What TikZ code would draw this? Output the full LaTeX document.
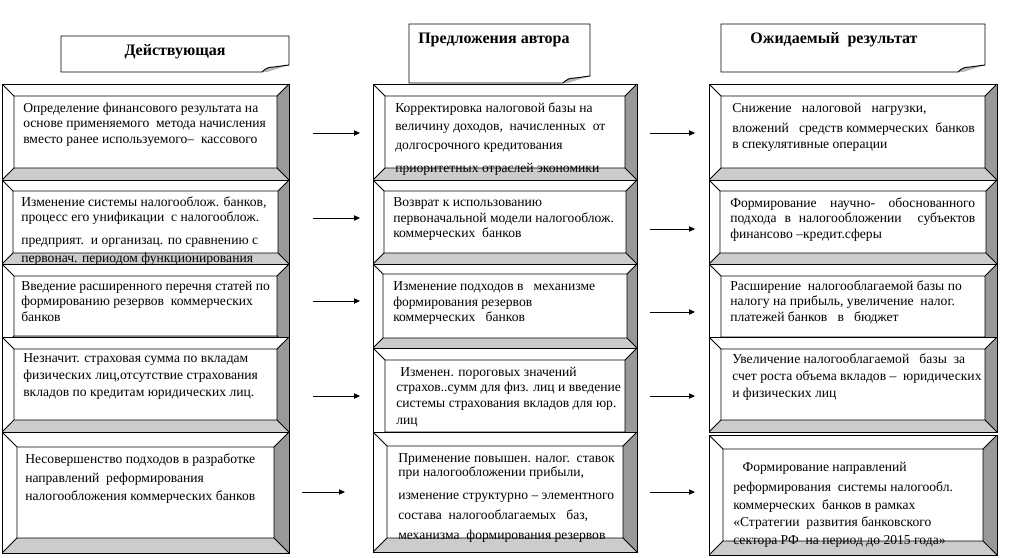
\documentclass[tikz,border=0pt]{standalone}
\usepackage{fontspec}
\setmainfont{Liberation Serif}
\usetikzlibrary{arrows.meta,calc}

\definecolor{bevR}{HTML}{999999}
\definecolor{bevB}{HTML}{CCCCCC}

% bevelled box: name, x1, y1, x2, y2, inset
\newcommand{\bevelnode}[6]{%
  \node (#1) at (#2,#3) [bevel=#6, minimum width={(#4-#2)*0.75pt}, minimum height={(#5-#3)*0.75pt}] {};}

% heading sheet with a folded corner: x1, y1, x2, y2
\newcommand{\notesheet}[4]{%
  \fill[white] (#1,#2) rectangle (#3,#4);
  \fill[bevR!70] (#3-27,#4) .. controls (#3-23,#4-4) and (#3-20,#4-5) .. (#3-15,#4-5) -- (#3,#4-7) -- (#3-22,#4) -- cycle;
  \draw[line width=0.7pt] (#3-27,#4) -- (#1,#4) -- (#1,#2) -- (#3,#2) -- (#3,#4-7)
    -- (#3-15,#4-5) .. controls (#3-20,#4-5) and (#3-23,#4-4) .. (#3-27,#4);}

\begin{document}
\begin{tikzpicture}[x=0.75pt,y=-0.75pt,
  bevel/.style={draw, line width=0.7pt, fill=white, inner sep=0pt, outer sep=0pt, anchor=north west,
    path picture={
      \path (path picture bounding box.north west) coordinate (pnw)
            (path picture bounding box.south east) coordinate (pse)
            (pnw-|pse) coordinate (pne) (pnw|-pse) coordinate (psw)
            ($(pnw)+(#1,-#1)$) coordinate (qnw)
            ($(pne)+(-#1,-#1)$) coordinate (qne)
            ($(pse)+(-#1,#1)$) coordinate (qse)
            ($(psw)+(#1,#1)$) coordinate (qsw);
      \fill[bevR] (pne) -- (pse) -- (qse) -- (qne) -- cycle;
      \fill[bevB] (psw) -- (pse) -- (qse) -- (qsw) -- cycle;
      \draw[line width=0.7pt] (qnw) rectangle (qse)
            (pnw) -- (qnw) (pne) -- (qne) (pse) -- (qse) (psw) -- (qsw);
    }},
  txt/.style={anchor=north west, inner sep=0pt, align=left, font=\fontsize{10.2}{11.6}\selectfont},
  head/.style={inner sep=0pt, font=\fontsize{12}{14}\selectfont\bfseries},
  arr/.style={-{Triangle[length=4.5pt,width=4pt]}, line width=0.6pt}]

\useasboundingbox (0,0) rectangle (1010,557);

% headings
\notesheet{61}{36}{289}{72}
\notesheet{409}{24}{590}{83}
\notesheet{721}{24}{985}{72}
\node (h1) at (175,52) [head] {Действующая};
\node (h2) at (418,40) [head, anchor=west] {Предложения автора};
\node (h3) at (750,40) [head, anchor=west] {Ожидаемый\ \ результат};

% column 1
\bevelnode{d1}{2}{84}{289}{180}{9pt}
\node (dt1) at (23,102.5) [txt] {Определение финансового результата на\\
  основе применяемого\ \ метода начисления\\
  вместо ранее используемого–\ \ кассового};
\bevelnode{d2}{2}{180}{289}{264}{8.25pt}
\node (dt2) at (21,196.5) [txt] {Изменение системы налогооблож. банков,\\
  процесс его унификации\ \ с налогооблож.\\[5pt]
  предприят.\ \ и организац. по сравнению с\\[2.5pt]
  первонач. периодом функционирования};
\bevelnode{d3}{2}{264}{289}{348}{9pt}
\node (dt3) at (21,280.5) [txt] {Введение расширенного перечня статей по\\
  формированию резервов\ \ коммерческих\\
  банков};
\bevelnode{d4}{2}{337}{289}{432}{9pt}
\node (dt4) at (23,353.5) [txt] {Незначит. страховая сумма по вкладам\\[1pt]
  физических лиц,отсутствие страхования\\[1pt]
  вкладов по кредитам юридических лиц.};
\bevelnode{d5}{2}{432}{289}{553}{11.25pt}
\node (dt5) at (25,453.5) [txt] {Несовершенство подходов в разработке\\[2.5pt]
  направлений\ \ реформирования\\[2pt]
  налогообложения коммерческих банков};

% column 2
\bevelnode{p1}{373}{84}{637}{180}{9pt}
\node (pt1) at (395,102.5) [txt] {Корректировка налоговой базы на\\[2pt]
  величину доходов,\ \ начисленных\ \ от\\[2.5pt]
  долгосрочного кредитования\\[5.5pt]
  приоритетных отраслей экономики};
\bevelnode{p2}{373}{180}{637}{264}{8.25pt}
\node (pt2) at (393,197.5) [txt] {Возврат к использованию\\
  первоначальной модели налогооблож.\\
  коммерческих\ \ банков};
\bevelnode{p3}{373}{264}{637}{348}{7.5pt}
\node (pt3) at (393,281.5) [txt] {Изменение подходов в\ \ \ механизме\\
  формирования резервов\\
  коммерческих\ \ \ банков};
\bevelnode{p4}{373}{348}{637}{444}{9pt}
\node (pt4) at (396,366.5) [txt] {\hspace{3pt}Изменен. пороговых значений\\
  страхов..сумм для физ. лиц и введение\\
  системы страхования вкладов для юр.\\[1.5pt]
  лиц};
\bevelnode{p5}{373}{432}{637}{552}{10.5pt}
\node (pt5) at (398,453.5) [txt] {Применение повышен. налог.\ \ ставок\\[-1pt]
  при налогообложении прибыли,\\[5.5pt]
  изменение структурно – элементного\\[3.5pt]
  состава\ \ налогооблагаемых\ \ \ баз,\\[3.5pt]
  механизма\ \ формирования резервов};

% column 3
\bevelnode{r1}{709}{84}{997}{180}{9pt}
\node (rt1) at (732,102.5) [txt] {Снижение\ \ \ налоговой\ \ \ нагрузки,\\[4pt]
  вложений\ \ \ средств коммерческих\ \ банков\\
  в спекулятивные операции};
\bevelnode{r2}{709}{180}{997}{264}{8.25pt}
\node (rt2) at (730,197.5) [txt] {\makebox[183.75pt][s]{Формирование научно- обоснованного}\\
  \makebox[183.75pt][s]{подхода в налогообложении \ субъектов}\\
  финансово –кредит.сферы};
\bevelnode{r3}{709}{264}{997}{349}{9pt}
\node (rt3) at (730,280.5) [txt] {Расширение\ \ налогооблагаемой базы по\\
  налогу на прибыль, увеличение\ \ налог.\\
  платежей банков\ \ \ в\ \ \ бюджет};
\bevelnode{r4}{709}{337}{997}{432}{9pt}
\node (rt4) at (732,353.5) [txt] {Увеличение налогооблагаемой\ \ \ базы\ \ за\\[1pt]
  счет роста объема вкладов –\ \ юридических\\[1pt]
  и физических лиц};
\bevelnode{r5}{709}{435}{997}{555}{10.5pt}
\node (rt5) at (733,461.5) [txt] {\hspace{7pt}Формирование направлений\\[3.5pt]
  реформирования\ \ системы налогообл.\\[2pt]
  коммерческих\ \ банков в рамках\\[1pt]
  «Стратегии\ \ развития банковского\\[2.5pt]
  сектора РФ\ \ на период до 2015 года»};

% arrows
\foreach \i/\ya/\yb/\xa/\xb in {1/133/133/313/360, 2/218/218/313/360, 3/301/301/313/360, 4/396/396/313/360, 5/492/492/302/345} {
  \coordinate (a\i) at (\xa,\ya);
  \coordinate (b\i) at (\xb,\yb);
  \draw[arr] (a\i) -- (b\i);
}
\foreach \i/\y in {1/133, 2/229, 3/312, 4/396, 5/492} {
  \coordinate (c\i) at (650,\y);
  \coordinate (e\i) at (695,\y);
  \draw[arr] (c\i) -- (e\i);
}

\end{tikzpicture}
\end{document}
